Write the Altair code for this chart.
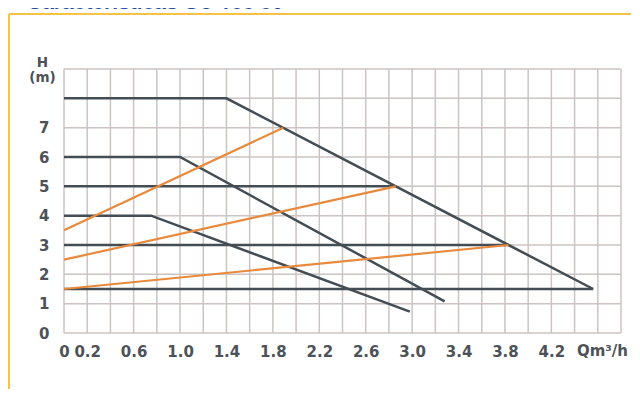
import altair as alt
import pandas as pd

# ---- data ----
# pump curves (dark): flow Q (m3/h) and head H (m)
curve_8_q = [0.0, 1.4, 4.56]
curve_8_h = [8.0, 8.0, 1.5]
curve_6_q = [0.0, 1.0, 3.28]
curve_6_h = [6.0, 6.0, 1.08]
curve_4_q = [0.0, 0.75, 2.98]
curve_4_h = [4.0, 4.0, 0.73]
# constant pressure lines (dark)
const_5_q = [0.0, 2.86]
const_5_h = [5.0, 5.0]
const_3_q = [0.0, 3.83]
const_3_h = [3.0, 3.0]
const_15_q = [0.0, 4.56]
const_15_h = [1.5, 1.5]
# proportional pressure lines (orange)
prop_a_q = [0.0, 1.89]
prop_a_h = [3.5, 7.0]
prop_b_q = [0.0, 2.86]
prop_b_h = [2.5, 5.0]
prop_c_q = [0.0, 3.83]
prop_c_h = [1.5, 3.0]

x_tick_values = [0, 0.2, 0.6, 1.0, 1.4, 1.8, 2.2, 2.6, 3.0, 3.4, 3.8, 4.2]
y_tick_values = [0, 1, 2, 3, 4, 5, 6, 7]
x_grid = [round(i * 0.2, 1) for i in range(25)]
y_grid = list(range(10))
unit_label = "Qm³/h"
unit_label_q = [4.64]
title_text = "Características Go-Tec 80"

DARK = "#444c54"
ORANGE = "#e8893c"
GRID = "#cbc4c2"
LABEL = "#4d5258"
FONT = "DejaVu Sans"


def rows(name, qs, hs):
    return [{"series": name, "q": q, "h": h, "i": i} for i, (q, h) in enumerate(zip(qs, hs))]


dark_df = pd.DataFrame(
    rows("c8", curve_8_q, curve_8_h)
    + rows("c6", curve_6_q, curve_6_h)
    + rows("c4", curve_4_q, curve_4_h)
    + rows("p5", const_5_q, const_5_h)
    + rows("p3", const_3_q, const_3_h)
    + rows("p15", const_15_q, const_15_h)
)
orange_df = pd.DataFrame(
    rows("a", prop_a_q, prop_a_h) + rows("b", prop_b_q, prop_b_h) + rows("c", prop_c_q, prop_c_h)
)

xs = alt.Scale(domain=[0, 4.8], nice=False, zero=False)
ys = alt.Scale(domain=[0, 9], nice=False, zero=False)

x_axis = alt.Axis(
    values=x_tick_values, grid=False, domain=False, ticks=False,
    labelFont=FONT, labelFontSize=15, labelFontWeight="bold", labelColor=LABEL,
    labelPadding=11, labelFlush=False, labelOverlap=False, title=None,
    labelExpr="datum.value == 0 ? '0' : format(datum.value, '.1f')",
)
y_axis = alt.Axis(
    values=y_tick_values, grid=False, domain=False, ticks=False,
    labelFont=FONT, labelFontSize=15, labelFontWeight="bold", labelColor=LABEL,
    labelPadding=15, labelFlush=False, labelOverlap=False,
    title=["H", "(m)"], titleAngle=0, titleAlign="center", titleBaseline="alphabetic",
    titleX=-22, titleY=-3, titleFont=FONT, titleFontSize=13.5, titleFontWeight="bold",
    titleColor=LABEL, titleLineHeight=15,
)

X = lambda: alt.X("q:Q", scale=xs, axis=x_axis)
Y = lambda: alt.Y("h:Q", scale=ys, axis=y_axis)

vgrid = alt.Chart(pd.DataFrame({"q": x_grid, "h": [0.0] * len(x_grid), "h2": [9.0] * len(x_grid)})).mark_rule(
    color=GRID, strokeWidth=1.5
).encode(x=X(), y=Y(), y2="h2:Q")
hgrid = alt.Chart(pd.DataFrame({"h": y_grid, "q": [0.0] * len(y_grid), "q2": [4.8] * len(y_grid)})).mark_rule(
    color=GRID, strokeWidth=1.5
).encode(y=Y(), x=X(), x2="q2:Q")

dark = alt.Chart(dark_df).mark_line(color=DARK, strokeWidth=2.5).encode(
    x=X(), y=Y(), detail="series:N", order="i:Q"
)
orange = alt.Chart(orange_df).mark_line(color=ORANGE, strokeWidth=2.2).encode(
    x=X(), y=Y(), detail="series:N", order="i:Q"
)

unit = alt.Chart(pd.DataFrame({"q": unit_label_q, "t": [unit_label]})).mark_text(
    font=FONT, fontSize=15, fontWeight="bold", color=LABEL, baseline="top", align="center"
).encode(x=X(), y=alt.value(275), text="t:N")

title = alt.Chart(pd.DataFrame({"t": [title_text]})).mark_text(
    font="Liberation Sans", fontSize=21, fontWeight="bold", color="#1d4f9c", align="left", baseline="alphabetic"
).encode(x=alt.value(-37), y=alt.value(-60), text="t:N")

frame_top = alt.Chart(pd.DataFrame({"k": [0]})).mark_rule(color="#f6c344", strokeWidth=2).encode(
    x=alt.value(-55), x2=alt.value(567), y=alt.value(-55)
)
frame_left = alt.Chart(pd.DataFrame({"k": [0]})).mark_rule(color="#f6c344", strokeWidth=2).encode(
    x=alt.value(-55), y=alt.value(-55), y2=alt.value(320)
)

chart = alt.layer(hgrid, vgrid, dark, orange, unit, title, frame_top, frame_left).properties(
    width=557, height=264,
    autosize=alt.AutoSizeParams(type="none"),
    padding={"left": 56, "top": 61, "right": 11, "bottom": 56},
    background="white",
).configure_view(stroke=None)

chart.save("out.html", embed_options={"renderer": "svg", "actions": False})
